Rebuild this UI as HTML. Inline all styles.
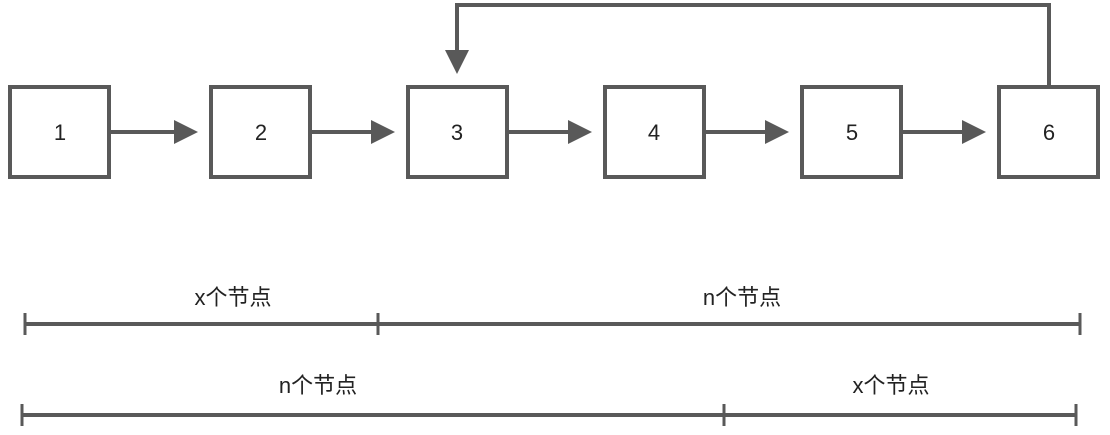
<!DOCTYPE html>
<html><head><meta charset="utf-8"><style>html,body{margin:0;padding:0;background:#fff}</style></head>
<body>
<svg width="1110" height="430" xmlns="http://www.w3.org/2000/svg" font-family="Liberation Sans, Noto Sans CJK SC, sans-serif">
<defs><marker id="a" markerWidth="6" markerHeight="6" refX="5" refY="3" orient="auto" markerUnits="strokeWidth"><path d="M0,0 L6,3 L0,6 z" fill="#595959"/></marker></defs>
<g stroke="#595959" stroke-width="4" fill="#fff">
<rect x="10" y="87" width="99" height="90"/>
<rect x="211" y="87" width="99" height="90"/>
<rect x="408" y="87" width="99" height="90"/>
<rect x="605" y="87" width="99" height="90"/>
<rect x="802" y="87" width="99" height="90"/>
<rect x="999" y="87" width="99" height="90"/>
</g>
<g stroke="#595959" stroke-width="4" fill="none">
<line x1="111" y1="132" x2="194" y2="132" marker-end="url(#a)"/>
<line x1="312" y1="132" x2="391" y2="132" marker-end="url(#a)"/>
<line x1="509" y1="132" x2="588" y2="132" marker-end="url(#a)"/>
<line x1="706" y1="132" x2="785" y2="132" marker-end="url(#a)"/>
<line x1="903" y1="132" x2="982" y2="132" marker-end="url(#a)"/>
<polyline points="1049,85 1049,5 457,5 457,70" marker-end="url(#a)"/>
</g>
<g font-size="22" fill="#222" text-anchor="middle">
<text x="60" y="140">1</text><text x="261" y="140">2</text><text x="457" y="140">3</text>
<text x="654" y="140">4</text><text x="852" y="140">5</text><text x="1049" y="140">6</text>
</g>
<g stroke="#595959" stroke-width="4">
<line x1="25" y1="324" x2="1080" y2="324"/>
<line x1="22" y1="415" x2="1076" y2="415"/>
</g>
<g stroke="#595959" stroke-width="3">
<line x1="25" y1="313" x2="25" y2="335"/><line x1="378" y1="313" x2="378" y2="335"/><line x1="1080" y1="313" x2="1080" y2="335"/>
<line x1="22" y1="404" x2="22" y2="426"/><line x1="724" y1="404" x2="724" y2="426"/><line x1="1076" y1="404" x2="1076" y2="426"/>
</g>
<g font-size="22" fill="#222" text-anchor="middle">
<text x="233" y="305">x个节点</text>
<text x="742" y="305">n个节点</text>
<text x="318" y="393">n个节点</text>
<text x="891" y="393">x个节点</text>
</g>
</svg>
</body></html>
